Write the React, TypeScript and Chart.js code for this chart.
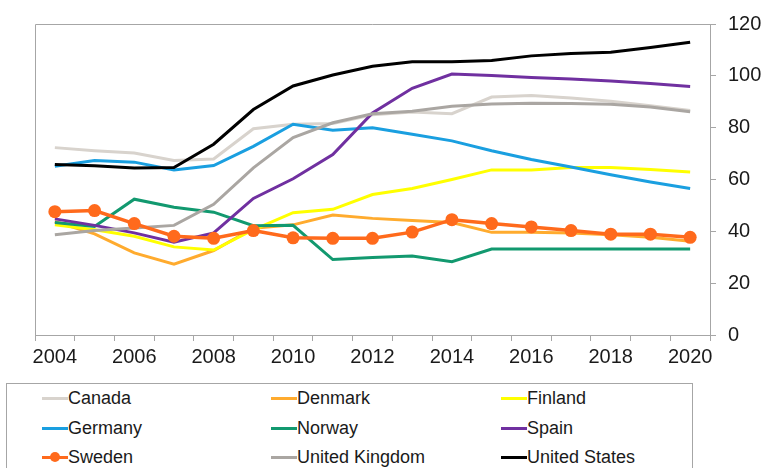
import React, { useEffect, useRef } from 'react';
import { Chart, registerables } from 'chart.js';

Chart.register(...registerables);

const years = ['2004', '2005', '2006', '2007', '2008', '2009', '2010', '2011', '2012', '2013', '2014', '2015', '2016', '2017', '2018', '2019', '2020'];

const canada = [72.3, 71.1, 70.2, 67.3, 67.9, 79.6, 81.3, 81.6, 85.0, 86.0, 85.4, 91.8, 92.4, 91.4, 90.2, 88.5, 86.6];
const denmark = [43.8, 39.0, 31.7, 27.3, 32.6, 41.2, 42.5, 46.3, 45.0, 44.2, 43.4, 39.6, 39.6, 39.4, 38.7, 37.7, 36.2];
const finland = [42.5, 40.6, 38.1, 34.0, 32.8, 40.6, 47.2, 48.5, 54.2, 56.5, 60.0, 63.7, 63.7, 64.6, 64.6, 63.9, 62.9];
const germany = [65.1, 67.3, 66.7, 63.7, 65.4, 72.8, 81.3, 79.0, 80.0, 77.5, 74.9, 71.1, 67.7, 64.8, 61.8, 59.0, 56.5];
const norway = [43.4, 41.9, 52.4, 49.3, 47.4, 42.2, 42.3, 29.1, 29.9, 30.5, 28.3, 33.2, 33.2, 33.2, 33.2, 33.2, 33.2];
const spain = [44.8, 42.3, 39.4, 35.8, 39.4, 52.7, 60.3, 69.6, 85.7, 95.2, 100.7, 100.1, 99.4, 98.8, 98.0, 97.0, 95.9];
const sweden = [47.6, 48.0, 43.0, 38.1, 37.3, 40.3, 37.5, 37.3, 37.3, 39.7, 44.5, 43.0, 41.7, 40.3, 38.9, 38.9, 37.7];
const unitedKingdom = [38.7, 40.3, 41.3, 42.3, 50.4, 64.5, 76.2, 81.9, 85.4, 86.3, 88.3, 89.1, 89.4, 89.3, 89.0, 88.0, 86.1];
const unitedStates = [65.8, 65.3, 64.4, 64.6, 73.6, 87.0, 96.1, 100.3, 103.7, 105.4, 105.4, 105.9, 107.7, 108.6, 109.1, 110.9, 113.0];

const seriesNames = ['Canada', 'Denmark', 'Finland', 'Germany', 'Norway', 'Spain', 'Sweden', 'United Kingdom', 'United States'];
const seriesColors = ['#d8d3cd', '#ffab2e', '#ffff00', '#1a9fe0', '#12996f', '#7030a0', '#ff6a1c', '#aaa6a2', '#000000'];
const seriesData = [canada, denmark, finland, germany, norway, spain, sweden, unitedKingdom, unitedStates];

const yMin = 0;
const yMax = 120;
const yStep = 20;

const FONT = '"Liberation Sans", Arial, sans-serif';
const AXIS = '#a6a6a6';
const TEXT = '#1a1a1a';

const framePlugin = {
  id: 'frame',
  beforeDatasetsDraw(chart: any) {
    const { ctx, chartArea } = chart;
    ctx.save();
    ctx.strokeStyle = AXIS;
    ctx.lineWidth = 1;
    ctx.beginPath();
    ctx.moveTo(Math.round(chartArea.left) + 0.5, Math.round(chartArea.bottom));
    ctx.lineTo(Math.round(chartArea.left) + 0.5, Math.round(chartArea.top) + 0.5);
    ctx.lineTo(Math.round(chartArea.right), Math.round(chartArea.top) + 0.5);
    ctx.stroke();
    ctx.restore();
  },
};

function LegendSwatch({ color, marker }: { color: string; marker: boolean }) {
  return (
    <div style={{ position: 'relative', width: 26, height: 14, flex: '0 0 auto' }}>
      <div style={{ position: 'absolute', left: 0, top: 5.5, width: 26, height: 3, background: color }} />
      {marker && (
        <div style={{ position: 'absolute', left: 8, top: 2, width: 10, height: 10, borderRadius: 5, background: color }} />
      )}
    </div>
  );
}

export default function App() {
  const canvasRef = useRef<HTMLCanvasElement | null>(null);

  useEffect(() => {
    const canvas = canvasRef.current;
    if (!canvas) return;
    const datasets = seriesNames.map((name, i) => {
      const isSweden = name === 'Sweden';
      return {
        label: name,
        data: seriesData[i],
        borderColor: seriesColors[i],
        backgroundColor: seriesColors[i],
        borderWidth: isSweden ? 3.5 : 3,
        pointRadius: isSweden ? 6.5 : 0,
        pointBorderWidth: 0,
        pointBackgroundColor: seriesColors[i],
        tension: 0,
        fill: false,
        order: isSweden ? 0 : seriesNames.length - i,
      };
    });
    const chart = new Chart(canvas, {
      type: 'line',
      data: { labels: years, datasets },
      options: {
        animation: false,
        responsive: false,
        maintainAspectRatio: false,
        devicePixelRatio: 1,
        layout: { padding: { left: 35, top: 20, right: 0, bottom: 0 } },
        plugins: { legend: { display: false }, tooltip: { enabled: false }, title: { display: false } },
        scales: {
          x: {
            type: 'category',
            offset: true,
            grid: { offset: true, drawOnChartArea: false, drawTicks: true, tickLength: 6, color: AXIS },
            border: { color: AXIS, width: 1 },
            ticks: {
              autoSkip: false,
              maxRotation: 0,
              minRotation: 0,
              padding: 4,
              color: TEXT,
              font: { family: FONT, size: 20 },
              callback: (_v: any, i: number) => (i % 2 === 0 ? years[i] : ''),
            },
            afterFit: (s: any) => {
              s.height = 45;
            },
          },
          y: {
            position: 'right',
            min: yMin,
            max: yMax,
            grid: { drawOnChartArea: false, drawTicks: true, tickLength: 6, color: AXIS },
            border: { color: AXIS, width: 1 },
            ticks: {
              stepSize: yStep,
              padding: 12,
              color: TEXT,
              font: { family: FONT, size: 20 },
            },
            afterFit: (s: any) => {
              s.width = 54;
            },
          },
        },
      },
      plugins: [framePlugin],
    } as any);
    return () => chart.destroy();
  }, []);

  const colLeft = [42, 271, 501];
  const rowCenter = [398, 428, 457];

  return (
    <div style={{ position: 'fixed', left: 0, top: 0, width: 764, height: 468, overflow: 'hidden', background: '#fff' }}>
      <canvas ref={canvasRef} width={764} height={380} style={{ position: 'absolute', left: 0, top: 0, width: 764, height: 380, display: 'block' }} />
      <div
        style={{
          position: 'absolute',
          left: 6,
          top: 383,
          width: 687,
          height: 110,
          border: '1px solid #a6a6a6',
          boxSizing: 'border-box',
        }}
      />
      {seriesNames.map((name, i) => {
        const col = i % 3;
        const row = Math.floor(i / 3);
        return (
          <div
            key={name}
            style={{
              position: 'absolute',
              left: colLeft[col],
              top: rowCenter[row] - 12,
              height: 24,
              display: 'flex',
              alignItems: 'center',
              fontFamily: FONT,
              fontSize: 18,
              color: TEXT,
              whiteSpace: 'nowrap',
            }}
          >
            <LegendSwatch color={seriesColors[i]} marker={name === 'Sweden'} />
            <span>{name}</span>
          </div>
        );
      })}
    </div>
  );
}
